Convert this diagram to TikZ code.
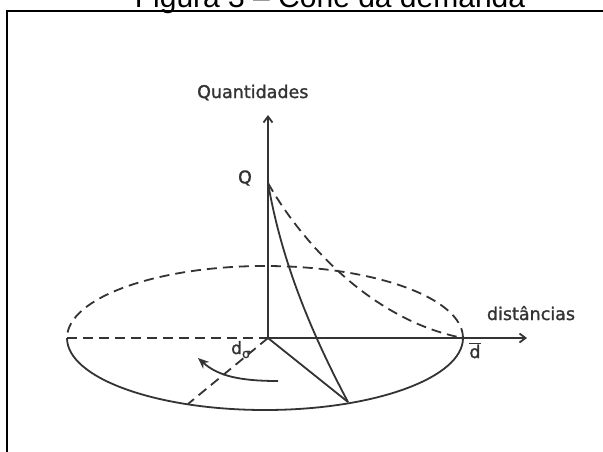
\documentclass[tikz,border=0pt]{standalone}
\usepackage{fontspec}
\setmainfont{DejaVu Sans}
\newfontfamily\titlefont{Liberation Sans}
\newfontfamily\lblfont[FakeBold=1.3]{DejaVu Sans}
\usetikzlibrary{arrows.meta}
\definecolor{ink}{HTML}{333333}
\begin{document}
\begin{tikzpicture}[x=1pt,y=-1pt,
  ln/.style={line width=1.8pt, draw=ink},
  dsh/.style={ln, dash pattern=on 10pt off 6pt},
  lbl/.style={text=ink, inner sep=0pt, font=\lblfont\fontsize{17.5}{20}\selectfont},
  axisarrow/.style={-{Straight Barb[length=6pt,width=9pt]}}
]
\useasboundingbox (0,0) rectangle (603,451);
\fill[white] (0,0) rectangle (603,451);
\node[anchor=base, inner sep=0pt, font=\titlefont\fontsize{30}{34}\selectfont] (title) at (330,7) {Figura 3 – Cone da demanda};
\draw[line width=1.5pt, black] (7,470) -- (7,11) -- (620,11);

\coordinate (O) at (268,338);
\coordinate (Q) at (268,183);
\coordinate (L) at (67,338);
\coordinate (R) at (463,338);
\coordinate (P) at (348,402);
\coordinate (B) at (188,404);
\coordinate (Ytip) at (268,115);
\coordinate (Xtip) at (527,338);
\coordinate (A1) at (278,381);
\coordinate (A2) at (198,358);

% ellipse
\draw[dsh] (R) arc[start angle=0, end angle=180, x radius=198pt, y radius=72pt];
\draw[ln] (L) arc[start angle=180, end angle=360, x radius=198pt, y radius=72pt];

% axes and radii
\draw[dsh] (L) -- (O);
\draw[ln, axisarrow] (O) -- (Ytip);
\draw[ln, axisarrow] (O) -- (Xtip);
\draw[ln] (O) -- (P);
\draw[dsh] (O) -- (B);

% demand curves
\draw[dsh] (Q) .. controls (300,240) and (370,320) .. (R);
\draw[ln] (Q) .. controls (278,240) and (298,308) .. (P);

% rotation arrow
\draw[ln, -{Stealth[length=11pt,width=9pt]}] (A1) .. controls (240,381) and (218,376) .. (A2);

% labels
\node[lbl, anchor=base west] (qt) at (197,98) {Quantidades};
\node[lbl, anchor=base] (ds) at (531,320) {distâncias};
\node[lbl] (qlab) at (245,178) {Q};
\node[lbl, anchor=base] (dbar) at (475,358) {$\overline{\hbox{d}}$};
\node[lbl, anchor=base west, font=\lblfont\fontsize{17}{20}\selectfont] (d0) at (231,354) {d\raisebox{-4pt}{\fontsize{13}{15}\selectfont σ}};
\end{tikzpicture}
\end{document}
